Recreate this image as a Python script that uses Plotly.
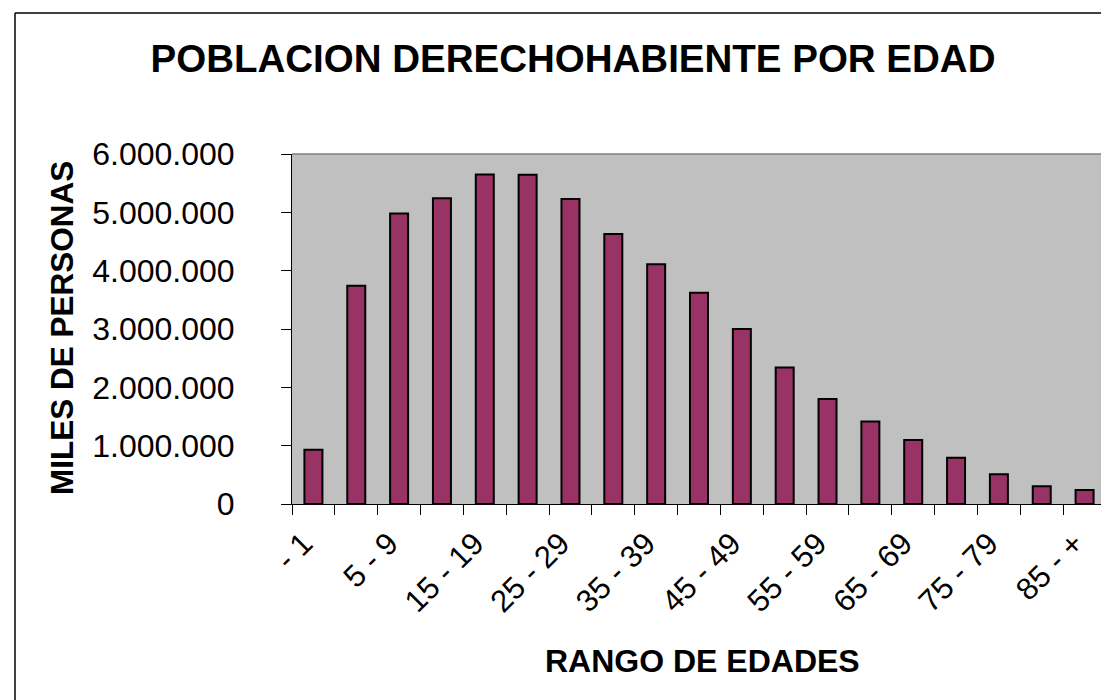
import plotly.graph_objects as go

categories = ["- 1", "1 - 4", "5 - 9", "10 - 14", "15 - 19", "20 - 24", "25 - 29",
              "30 - 34", "35 - 39", "40 - 44", "45 - 49", "50 - 54", "55 - 59",
              "60 - 64", "65 - 69", "70 - 74", "75 - 79", "80 - 84", "85 - +"]
values = [930000, 3740000, 4980000, 5240000, 5650000, 5645000, 5230000,
          4630000, 4110000, 3620000, 3000000, 2340000, 1800000,
          1415000, 1097000, 795000, 512000, 303000, 240000]
y_ticks = [0, 1000000, 2000000, 3000000, 4000000, 5000000, 6000000]

title_text = "POBLACION DERECHOHABIENTE POR EDAD"
y_title = "MILES DE PERSONAS"
x_title = "RANGO DE EDADES"

FONT = "Liberation Sans, Arial, sans-serif"
W, H = 1109, 700
L, R, T, B = 284, 1098, 146, 496
pw, ph = R - L, B - T

xs = list(range(len(categories)))
label_idx = xs[::2]

fig = go.Figure(go.Bar(
    x=xs, y=values, width=0.42,
    marker=dict(color="#993366", line=dict(color="black", width=2)),
    hoverinfo="skip",
))

def px_x(p):
    return (p - L) / pw

def px_y(p):
    return (B - p) / ph

fig.update_layout(
    width=W, height=H,
    margin=dict(l=L, r=W - R, t=T, b=H - B, pad=0),
    paper_bgcolor="white",
    plot_bgcolor="#C0C0C0",
    separators=",.",
    showlegend=False,
    font=dict(family=FONT, color="black"),
    title=dict(text="<b>" + title_text + "</b>", x=565 / W, xanchor="center",
               y=1 - 51 / H, yanchor="middle", yref="container",
               font=dict(size=38.5, family=FONT, color="black")),
    xaxis=dict(
        range=[-0.5, len(categories) - 0.5],
        tickmode="array", tickvals=[xs[i] for i in label_idx],
        ticktext=[categories[i] for i in label_idx],
        tickangle=-45, ticks="", ticklen=0,
        tickfont=dict(size=31, family=FONT, color="black"),
        ticklabelshift=-10, ticklabelstandoff=8,
        showline=True, linecolor="black", linewidth=1,
        showgrid=False, zeroline=False,
        minor=dict(tick0=-0.5, dtick=1, ticks="outside", ticklen=10,
                   tickcolor="black", tickwidth=1, showgrid=False),
    ),
    yaxis=dict(
        range=[0, 6000000], tickmode="array", tickvals=y_ticks,
        tickformat=",d", ticks="outside", ticklen=10, tickcolor="black",
        tickfont=dict(size=32, family=FONT, color="black"),
        ticklabelstandoff=40,
        showline=True, linecolor="black", linewidth=1,
        showgrid=False, zeroline=False,
    ),
    annotations=[
        dict(text="<b>" + y_title + "</b>", x=px_x(54), y=px_y(320),
             xref="paper", yref="paper", textangle=-90, showarrow=False,
             xanchor="center", yanchor="middle",
             font=dict(size=31.5, family=FONT, color="black")),
        dict(text="<b>" + x_title + "</b>", x=px_x(694), y=px_y(653),
             xref="paper", yref="paper", showarrow=False,
             xanchor="center", yanchor="middle",
             font=dict(size=32, family=FONT, color="black")),
    ],
    shapes=[
        dict(type="line", xref="paper", yref="paper", x0=0, y0=1, x1=1, y1=1,
             line=dict(color="#808080", width=1.5)),
        dict(type="line", xref="paper", yref="paper", x0=1, y0=0, x1=1, y1=1,
             line=dict(color="#808080", width=1.5)),
        dict(type="line", xref="paper", yref="paper", x0=px_x(7), y0=px_y(5),
             x1=px_x(W + 5), y1=px_y(5), line=dict(color="black", width=1.5)),
        dict(type="line", xref="paper", yref="paper", x0=px_x(7), y0=px_y(5),
             x1=px_x(7), y1=px_y(H + 5), line=dict(color="black", width=1.5)),
    ],
)

fig.write_html("out.html")
